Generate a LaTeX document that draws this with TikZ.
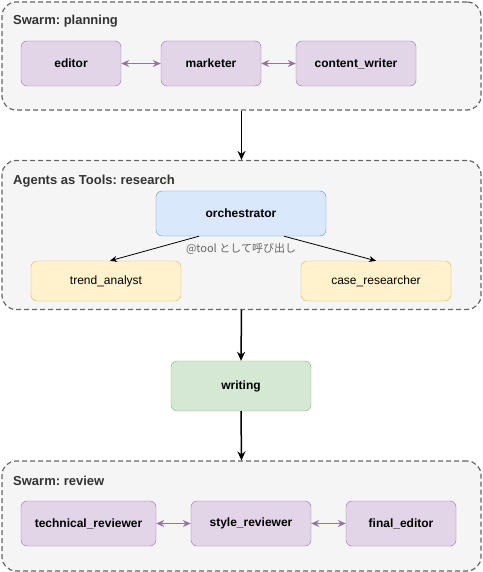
\documentclass[tikz,border=0pt]{standalone}
\usepackage{fontspec}
\setmainfont{Liberation Sans}
\newfontfamily\jpfont{Noto Sans CJK JP}
\usetikzlibrary{arrows.meta}
\frenchspacing
\definecolor{grpfill}{HTML}{F5F5F5}
\definecolor{grpline}{HTML}{666666}
\definecolor{purplefill}{HTML}{E1D5E7}
\definecolor{purpleline}{HTML}{9673A6}
\definecolor{bluefill}{HTML}{DAE8FC}
\definecolor{blueline}{HTML}{6C8EBF}
\definecolor{yellowfill}{HTML}{FFF2CC}
\definecolor{yellowline}{HTML}{D6B656}
\definecolor{greenfill}{HTML}{D5E8D4}
\definecolor{greenline}{HTML}{82B366}
\definecolor{labelgray}{HTML}{333333}
\begin{document}
\begin{tikzpicture}[x=1pt,y=-1pt,
  group/.style={draw=grpline,fill=grpfill,dash pattern=on 5pt off 3pt,line width=1.2pt,rounded corners=14pt,inner sep=0pt},
  grouplabel/.style={anchor=west,inner sep=0pt,text=labelgray,font=\fontsize{13}{15}\selectfont\bfseries},
  agent/.style={draw=purpleline,fill=purplefill,rounded corners=6pt,inner sep=0pt,minimum height=45pt,font=\fontsize{12}{14}\selectfont\bfseries},
  lead/.style={draw=blueline,fill=bluefill,rounded corners=6pt,inner sep=0pt,minimum height=45pt,font=\fontsize{12}{14}\selectfont\bfseries},
  tool/.style={draw=yellowline,fill=yellowfill,rounded corners=6pt,inner sep=0pt,minimum height=40pt,font=\fontsize{12}{14}\selectfont},
  stage/.style={draw=greenline,fill=greenfill,rounded corners=6pt,inner sep=0pt,minimum height=50pt,font=\fontsize{12}{14}\selectfont\bfseries},
  handoff/.style={draw=purpleline,line width=1pt,{Stealth[length=8pt,width=7pt]}-{Stealth[length=8pt,width=7pt]}},
  flow/.style={draw=black,line width=1.5pt,-{Stealth[length=9pt,width=8pt]}},
  call/.style={draw=black,line width=0.8pt,-{Stealth[length=7pt,width=6pt]}}]
 \useasboundingbox (0,0) rectangle (482,572);

 % planning swarm
 \node (planning) at (241.5,56) [group,minimum width=479,minimum height=108] {};
 \node (planninglabel) at (13,21) [grouplabel] {Swarm: planning};
 \node (editor) at (71,63.5) [agent,minimum width=100] {editor};
 \node (marketer) at (211,63.5) [agent,minimum width=100] {marketer};
 \node (contentwriter) at (356,63.5) [agent,minimum width=120] {content\_writer};
 \draw[handoff] (editor) -- (marketer);
 \draw[handoff] (marketer) -- (contentwriter);

 % research (agents as tools)
 \node (research) at (241.5,235) [group,minimum width=479,minimum height=149] {};
 \node (researchlabel) at (13,181) [grouplabel] {Agents as Tools: research};
 \node (orchestrator) at (241,213.5) [lead,minimum width=170] {orchestrator};
 \node (trend) at (106,281) [tool,minimum width=150] {trend\_analyst};
 \node (case) at (376,281) [tool,minimum width=150] {case\_researcher};
 \draw[call] ([xshift=-42pt]orchestrator.south) -- ([xshift=4pt]trend.north);
 \draw[call] ([xshift=43pt]orchestrator.south) -- (case.north);
 \node (calllabel) at (241,249) [inner sep=0pt,text=grpline,font=\fontsize{11}{13}\jpfont] {@tool として呼び出し};

 % writing
 \node (writing) at (241,386) [stage,minimum width=140] {writing};

 % review swarm
 \node (review) at (241.5,516) [group,minimum width=479,minimum height=110] {};
 \node (reviewlabel) at (13,481) [grouplabel] {Swarm: review};
 \node (technical) at (88.5,523.5) [agent,minimum width=135] {technical\_reviewer};
 \node (style) at (251,523.5) [agent,minimum width=120] {style\_reviewer};
 \node (final) at (401,523.5) [agent,minimum width=110] {final\_editor};
 \draw[handoff] (technical) -- (style);
 \draw[handoff] (style) -- (final);

 \draw[flow] (planning.south) -- (research.north);
 \draw[flow] (research.south) -- (writing.north);
 \draw[flow] (writing.south) -- (review.north);
\end{tikzpicture}
\end{document}
